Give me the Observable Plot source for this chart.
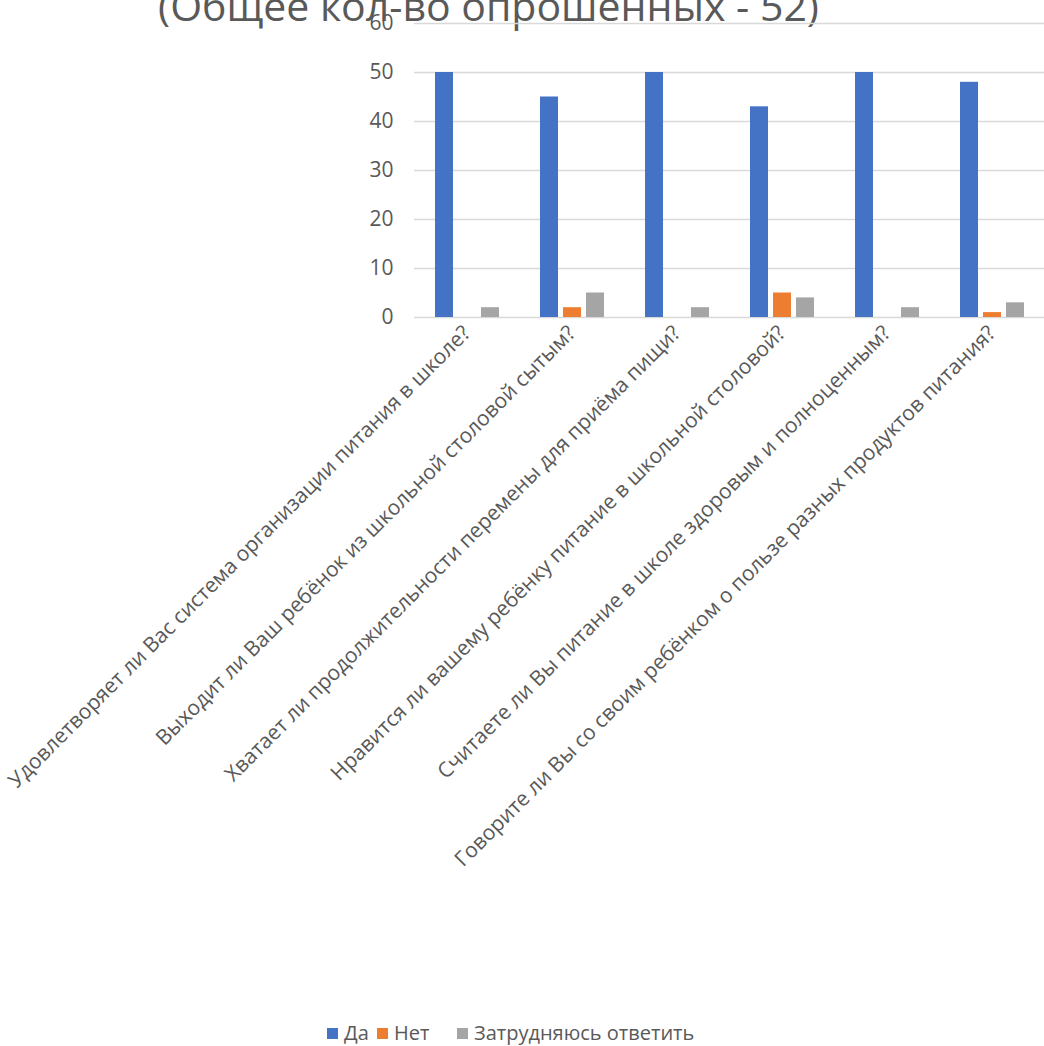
<!DOCTYPE html>
<html>
<head>
<meta charset="utf-8">
<script src="https://cdn.jsdelivr.net/npm/d3@7"></script>
<script src="https://cdn.jsdelivr.net/npm/@observablehq/plot@0.6"></script>
<style>
  html, body { margin: 0; padding: 0; background: #fff; width: 1044px; height: 1046px; overflow: hidden; }
  body { position: relative; font-family: "Open Sans", sans-serif; color: #595959; }
  #title { position: absolute; top: -15px; left: 0; width: 977px; text-align: center; font-size: 41px; line-height: 41px; white-space: nowrap; color: #595959; }
  #chart { position: absolute; top: 0; left: 0; }
  #legend { position: absolute; top: 1021px; left: 0; width: 1044px; height: 24px; font-size: 20px; line-height: 24px; white-space: nowrap; }
  #legend span.item { position: absolute; top: 0; display: flex; align-items: center; gap: 6px; }
  #legend span.sw { width: 11px; height: 11px; display: inline-block; }
</style>
</head>
<body>
<div id="title">(Общее кол-во опрошенных - 52)</div>
<div id="chart"></div>
<div id="legend"></div>
<script>
const questions = [
  "Удовлетворяет ли Вас система организации питания в школе?",
  "Выходит ли Ваш ребёнок из школьной столовой сытым?",
  "Хватает ли продолжительности перемены для приёма пищи?",
  "Нравится ли вашему ребёнку питание в школьной столовой?",
  "Считаете ли Вы питание в школе здоровым и полноценным?",
  "Говорите ли Вы со своим ребёнком о пользе разных продуктов питания?"
];
const seriesNames = ["Да", "Нет", "Затрудняюсь ответить"];
const valuesDa = [50, 45, 50, 43, 50, 48];
const valuesNet = [0, 2, 0, 5, 0, 1];
const valuesHard = [2, 5, 2, 4, 2, 3];
const colors = ["#4472C4", "#ED7D31", "#A5A5A5"];
const yTicks = [0, 10, 20, 30, 40, 50, 60];

const seriesValues = [valuesDa, valuesNet, valuesHard];
const data = [];
questions.forEach((q, i) => {
  seriesNames.forEach((s, j) => {
    data.push({question: q, series: s, value: seriesValues[j][i]});
  });
});

const chart = Plot.plot({
  width: 1044,
  height: 1000,
  marginTop: 23,
  marginBottom: 683,
  marginLeft: 413,
  marginRight: 0,
  style: {fontFamily: "Open Sans, sans-serif", fontSize: "21px", color: "#595959", background: "transparent"},
  fx: {domain: questions, padding: 0, label: null},
  x: {domain: seriesNames, paddingInner: 0.23, paddingOuter: 0.85, axis: null},
  y: {domain: [0, 60], ticks: yTicks, label: null},
  color: {domain: seriesNames, range: colors},
  marks: [
    Plot.ruleY(yTicks, {stroke: "#D9D9D9", strokeWidth: 1.5}),
    Plot.axisY(yTicks, {tickSize: 0, tickPadding: 21, label: null, fontSize: 21, fill: "#595959"}),
    Plot.axisFx({anchor: "bottom", tickRotate: -45, tickSize: 0, tickPadding: 12, label: null, fontSize: 21, fill: "#595959"}),
    Plot.barY(data, {fx: "question", x: "series", y: "value", fill: "series"})
  ]
});
document.getElementById("chart").appendChild(chart);

const legendLefts = [327, 377, 457];
const legend = document.getElementById("legend");
seriesNames.forEach((s, j) => {
  const item = document.createElement("span");
  item.className = "item";
  item.style.left = legendLefts[j] + "px";
  const sw = document.createElement("span");
  sw.className = "sw";
  sw.style.background = colors[j];
  const t = document.createElement("span");
  t.textContent = s;
  item.appendChild(sw);
  item.appendChild(t);
  legend.appendChild(item);
});
</script>
</body>
</html>
